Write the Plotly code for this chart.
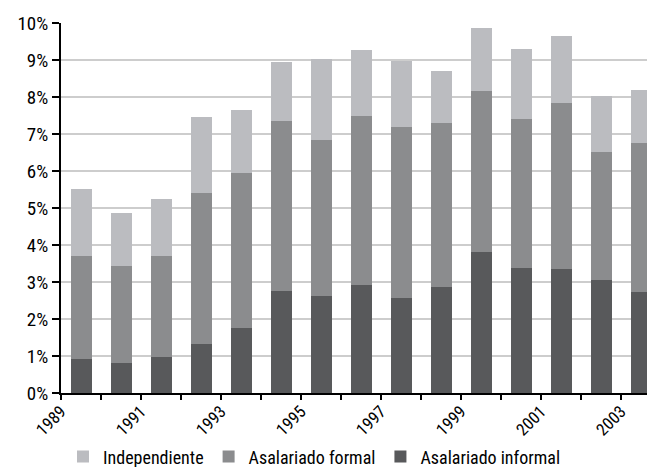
import plotly.graph_objects as go

# Years (each bar sits between its year tick and the next)
years = list(range(1989, 2004))

# Cumulative tops (%)
informal_top = [0.92, 0.81, 0.97, 1.32, 1.76, 2.76, 2.62, 2.92, 2.57, 2.86, 3.81, 3.38, 3.35, 3.05, 2.73]
formal_top = [3.70, 3.43, 3.70, 5.41, 5.95, 7.35, 6.84, 7.49, 7.19, 7.30, 8.16, 7.41, 7.84, 6.51, 6.76]
total_top = [5.51, 4.86, 5.24, 7.46, 7.65, 8.95, 9.02, 9.27, 8.97, 8.70, 9.86, 9.30, 9.65, 8.03, 8.19]

# Segment values
informal = informal_top
formal = [round(f - i, 2) for f, i in zip(formal_top, informal_top)]
independiente = [round(t - f, 2) for t, f in zip(total_top, formal_top)]

tick_years = list(range(1989, 2004))
tick_text = [str(y) if (y - 1989) % 2 == 0 else "" for y in tick_years]
y_ticks = list(range(0, 11))
y_text = [f"{v}%" for v in y_ticks]

font_family = "Roboto Condensed, Liberation Sans Narrow, Roboto, sans-serif"
x_pos = [y + 0.5 for y in years]

fig = go.Figure()
fig.add_trace(go.Bar(x=x_pos, y=informal, name="Asalariado informal",
                     marker=dict(color="#58595b", line=dict(width=0)), width=0.525))
fig.add_trace(go.Bar(x=x_pos, y=formal, name="Asalariado formal",
                     marker=dict(color="#8b8c8e", line=dict(width=0)), width=0.525))
fig.add_trace(go.Bar(x=x_pos, y=independiente, name="Independiente",
                     marker=dict(color="#bbbcc0", line=dict(width=0)), width=0.525))

# page body adds an 8px margin, so the figure is 8px smaller than the window
fig.update_layout(
    width=647, height=459,
    barmode="stack",
    plot_bgcolor="white", paper_bgcolor="white",
    margin=dict(l=53, r=0, t=15, b=74, autoexpand=False),
    font=dict(family=font_family, size=19, color="black"),
    legend=dict(orientation="h", traceorder="reversed",
                xref="container", yref="container",
                x=0.085, xanchor="left", y=0.022, yanchor="middle",
                font=dict(size=18), itemwidth=30),
    xaxis=dict(range=[1989, 2003.85], tickvals=tick_years, ticktext=tick_text,
               tickangle=-45, ticks="outside", ticklen=5, tickwidth=1.5, tickcolor="black",
               ticklabelstandoff=-5,
               showline=True, linecolor="black", linewidth=2, showgrid=False,
               zeroline=False, tickfont=dict(size=17), automargin=False),
    yaxis=dict(range=[0, 10], tickvals=y_ticks, ticktext=y_text,
               ticks="outside", ticklen=7, tickwidth=1.5, tickcolor="black",
               showline=True, linecolor="black", linewidth=2, automargin=False,
               showgrid=True, gridcolor="#cdcdcd", gridwidth=1.5, zeroline=False),
)

fig.write_html("out.html")
